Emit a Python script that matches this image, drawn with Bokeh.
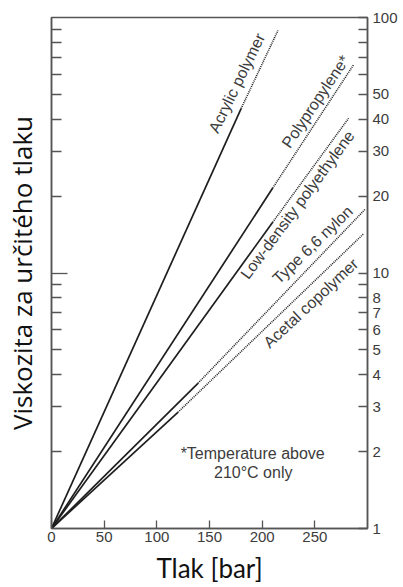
import math
from bokeh.plotting import figure
from bokeh.models import Range1d, LogAxis, FixedTicker, CustomJSTickFormatter
from bokeh.core.properties import value
from bokeh.embed import file_html
from bokeh.resources import INLINE

# ---- data ----
materials = ["Acrylic polymer", "Polypropylene*", "Low-density polyethylene",
             "Type 6,6 nylon", "Acetal copolymer"]
start_p = 0          # all curves start at 0 bar
start_v = 1          # ... with relative viscosity 1
solid_end_p = [180, 210, 210, 139, 120]
solid_end_v = [44, 21.5, 15.8, 3.7, 2.85]
dotted_end_p = [215, 287, 282, 298, 296]
dotted_end_v = [89, 65.5, 40.3, 17.8, 14.2]

label_p = [176, 250.7, 233.6, 247.9, 246.3]
label_v = [55.4, 46.9, 18.5, 12.9, 7.63]
label_angle_deg = [64, 56, 53.5, 44, 43]

note_lines = ["*Temperature above", "210°C only"]
note_p = [191, 191.5]
note_v = [1.966, 1.656]

x_ticks = [0, 50, 100, 150, 200, 250]
y_labeled = [1, 2, 3, 4, 5, 6, 7, 8, 10, 20, 30, 40, 50, 100]
y_unlabeled = [9, 60, 70, 80, 90]
left_minor = [2, 3, 4, 5, 6, 7, 8, 9, 20, 30, 40, 50, 60, 70, 80, 90]

x_title = "Tlak [bar]"
y_title = "Viskozita za určitého tlaku"

GRAY = "#3c3c3c"
TICKFONT = "Liberation Sans"

p = figure(width=403, height=587, x_range=Range1d(0, 300), y_range=Range1d(1, 100),
           y_axis_type="log", y_axis_location="right",
           output_backend="svg", toolbar_location=None,
           min_border_left=51, min_border_right=36, min_border_top=17, min_border_bottom=59)
p.grid.visible = False
p.outline_line_color = "#555555"
p.outline_line_width = 1.5
p.background_fill_color = "white"
p.border_fill_color = "white"

# bottom axis
xa = p.xaxis[0]
xa.ticker = FixedTicker(ticks=x_ticks)
xa.major_tick_in = 8
xa.major_tick_out = 0
xa.minor_tick_line_color = None
xa.axis_line_color = "#555555"
xa.axis_line_width = 1.5
xa.major_tick_line_color = "#555555"
xa.major_tick_line_width = 1.3
xa.major_label_text_font = TICKFONT
xa.major_label_text_font_size = "15px"
xa.major_label_text_color = GRAY
xa.major_label_standoff = 3
xa.axis_label = x_title
xa.axis_label_text_font = "Lato"
xa.axis_label_text_font_size = "26px"
xa.axis_label_text_font_style = "normal"
xa.axis_label_text_color = "#111111"
xa.axis_label_standoff = 7

# right axis (labels)
ya = p.yaxis[0]
ya.ticker = FixedTicker(ticks=y_labeled + y_unlabeled, minor_ticks=[])
ya.major_label_overrides = {v: "" for v in y_unlabeled}
ya.major_tick_in = 9
ya.major_tick_out = 0
ya.minor_tick_line_color = None
ya.axis_line_color = "#555555"
ya.axis_line_width = 1.5
ya.major_tick_line_color = "#555555"
ya.major_tick_line_width = 1.3
ya.major_label_text_font = TICKFONT
ya.major_label_text_font_size = "15px"
ya.major_label_text_color = GRAY
ya.major_label_standoff = 5
ya.formatter = CustomJSTickFormatter(code="return String(tick);")

# left axis (ticks only + title)
la = LogAxis(ticker=FixedTicker(ticks=[10], minor_ticks=left_minor),
             formatter=CustomJSTickFormatter(code="return '';"))
la.major_tick_in = 16
la.major_tick_out = 0
la.minor_tick_in = 10
la.minor_tick_out = 0
la.major_tick_line_color = "#555555"
la.minor_tick_line_color = "#555555"
la.major_tick_line_width = 1.3
la.minor_tick_line_width = 1.3
la.axis_line_color = "#555555"
la.axis_line_width = 1.5
la.major_label_standoff = 0
la.axis_label = y_title
la.axis_label_text_font = "Open Sans"
la.axis_label_text_font_size = "26px"
la.axis_label_text_font_style = "normal"
la.axis_label_text_color = "#111111"
la.axis_label_standoff = 12
p.add_layout(la, "left")

# curves
for i in range(len(materials)):
    p.line([start_p, solid_end_p[i]], [start_v, solid_end_v[i]],
           line_color="#1e1e1e", line_width=1.7)
    p.line([solid_end_p[i], dotted_end_p[i]], [solid_end_v[i], dotted_end_v[i]],
           line_color="#222222", line_width=1.6, line_dash="1 1")

p.text(x=label_p, y=label_v, text=materials,
       angle=[math.radians(a) for a in label_angle_deg],
       text_align="center", text_baseline="middle",
       text_font=value("Liberation Sans"), text_font_size="16px", text_color=GRAY)

p.text(x=note_p, y=note_v, text=note_lines,
       text_align="center", text_baseline="middle",
       text_font=value("Liberation Sans"), text_font_size="16px", text_color=GRAY)

open("out.html", "w").write(file_html(p, INLINE))
